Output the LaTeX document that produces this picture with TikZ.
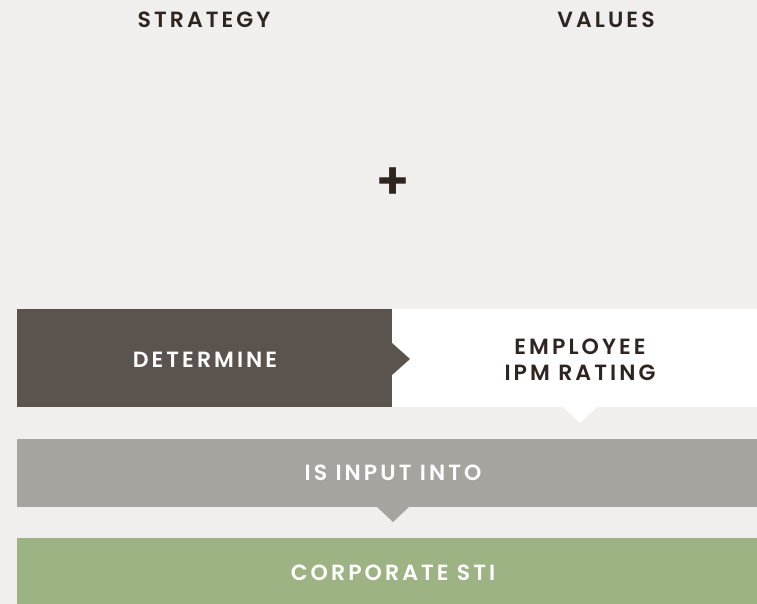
\documentclass[tikz,border=0pt]{standalone}
\usepackage{fontspec}
\setmainfont{Poppins}[LetterSpace=14,UprightFont=*-SemiBold,BoldFont=*-Bold]
\definecolor{bg}{HTML}{F0EFED}
\definecolor{darkbox}{HTML}{5A534E}
\definecolor{ink}{HTML}{2E2420}
\definecolor{graybox}{HTML}{A5A49F}
\definecolor{greenbox}{HTML}{9EB384}
\tikzset{
  lbl/.style={font=\fontsize{22}{26}\selectfont, text=ink, align=center, inner sep=0pt},
  wlbl/.style={font=\fontsize{22}{26}\selectfont, text=white, align=center, inner sep=0pt},
}
\begin{document}
\begin{tikzpicture}[x=1pt,y=-1pt]
\fill[bg] (0,0) rectangle (757,604);
\useasboundingbox (0,0) rectangle (757,604);
% boxes
\fill[white] (392,309) rectangle (757,407);
\fill[white] (563,407) -- (580,423) -- (597,407) -- cycle;
\fill[darkbox] (17,309) rectangle (392,407);
\fill[darkbox] (392,343) -- (410,359) -- (392,375) -- cycle;
\fill[graybox] (17,439) rectangle (757,507);
\fill[graybox] (377,507) -- (393,522) -- (409,507) -- cycle;
\fill[greenbox] (17,538) rectangle (757,604);
% labels
\node[lbl] (strategy) at (204,20) {STRATEGY};
\node[lbl] (values) at (606,20) {VALUES};
\node[lbl, font=\fontsize{52}{52}\selectfont] (plus) at (393,183.5) {+};
\node[wlbl] (determine) at (205,360) {DETERMINE};
\node[lbl] (rating) at (580,360) {EMPLOYEE\\IPM RATING};
\node[wlbl] (input) at (393,473) {IS INPUT INTO};
\node[wlbl] (sti) at (393,573) {CORPORATE STI};
\end{tikzpicture}
\end{document}
